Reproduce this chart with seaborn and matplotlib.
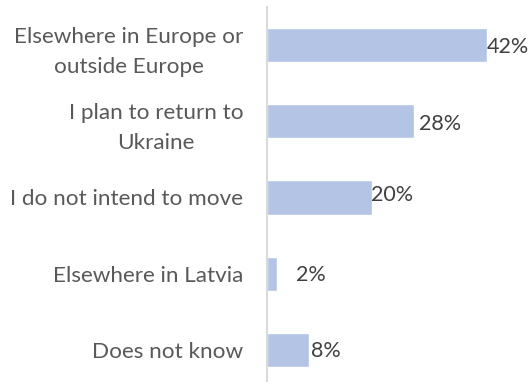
import matplotlib
matplotlib.use("Agg")
import matplotlib.pyplot as plt
import seaborn as sns
import pandas as pd

categories = [
    "Elsewhere in Europe or\noutside Europe",
    "I plan to return to\nUkraine",
    "I do not intend to move",
    "Elsewhere in Latvia",
    "Does not know",
]
shares = [42, 28, 20, 2, 8]
value_labels = ["42%", "28%", "20%", "2%", "8%"]

# per-label nudges (points) for the value annotations
label_dx = [0, 3.5, -0.7, 13, 1.5]
label_dy = [-1.5, -2, 1.5, -0.7, -0.7]

sns.set_style("white")
plt.rcParams["font.family"] = ["Lato", "DejaVu Sans"]

df = pd.DataFrame({"category": categories, "share": shares})

fig = plt.figure(figsize=(5.28, 3.82), dpi=100)
ax = fig.add_axes([267 / 528, -6 / 382, 262 / 528, 381 / 382])

sns.barplot(data=df, x="share", y="category", orient="h", color="#B4C4E4",
            saturation=1, width=0.45, ax=ax)

ax.set_xlim(0, 50)
ax.set_ylim(4.5, -0.5)
ax.set_xlabel("")
ax.set_ylabel("")
ax.set_xticks([])
for side in ["top", "right", "bottom"]:
    ax.spines[side].set_visible(False)
ax.spines["left"].set_color("#D9D9D9")
ax.spines["left"].set_linewidth(1.5)

ax.tick_params(axis="y", length=0, pad=17, labelsize=16.2, labelcolor="#595959")
for lbl in ax.get_yticklabels():
    lbl.set_multialignment("center")
    lbl.set_linespacing(1.6)

for i, (v, t) in enumerate(zip(shares, value_labels)):
    ax.annotate(t, xy=(v, i), xytext=(label_dx[i], label_dy[i]),
                textcoords="offset points", ha="left", va="center",
                fontsize=15.5, color="#404040", annotation_clip=False)

fig.savefig("out.png", dpi=100)
